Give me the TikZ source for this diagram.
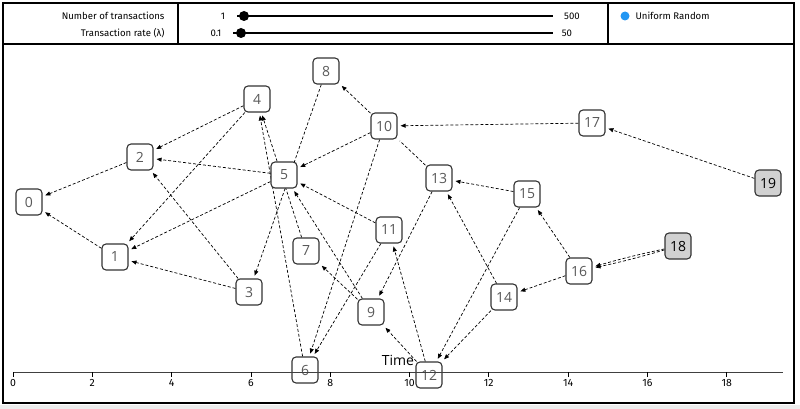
\documentclass[tikz,border=0pt]{standalone}
\usepackage{fontspec}
\setmainfont{Open Sans}
\newfontfamily\panelfont{Fira Sans}
\usetikzlibrary{arrows.meta,backgrounds}

\definecolor{legendblue}{RGB}{33,150,243}

\tikzset{
  tx/.style={draw=black!80, fill=white, rounded corners=4pt, minimum size=26pt,
    inner sep=0pt, line width=1.1pt, text=black!65, font=\fontsize{14}{14}\selectfont},
  tip/.style={fill=black!18, text=black},
  edge/.style={->, >={Triangle[length=5pt,width=4pt]}, dash pattern=on 3pt off 2pt,
    line width=0.7pt, shorten >=3pt},
  panel/.style={font=\panelfont\fontsize{9.6}{9.6}\selectfont}
}

\begin{document}
\begin{tikzpicture}[x=1pt, y=-1pt]
\useasboundingbox (0,0) rectangle (800,409);
\fill [black!7] (0,405) rectangle (800,409);

% control panel
\draw [line width=1.4pt] (3,3) rectangle (794,44);
\draw [line width=1.4pt] (178,3) -- (178,44);
\draw [line width=1.4pt] (608,3) -- (608,44);
\node [panel, anchor=east] (lbl-n) at (168,16) {Number of transactions};
\node [panel, anchor=east] (lbl-r) at (168,33) {Transaction rate (λ)};
\node [panel] (min-n) at (223,16) {1};
\node [panel] (min-r) at (216,33) {0.1};
\node [panel] (max-n) at (572,16) {500};
\node [panel] (max-r) at (567,33) {50};
\draw [line width=1.4pt] (237,16) -- (553,16);
\draw [line width=1.4pt] (233,33) -- (553,33);
\fill (244,16) circle (5pt);
\fill (241,33) circle (5pt);
\fill [legendblue] (625,16) circle (4.5pt);
\node [panel, anchor=west] (legend) at (632,16) {Uniform Random};

% plot area
\draw [line width=1.4pt] (3,44) rectangle (794,403);

% transactions
\node [tx] (n0) at (29,202) {0};
\node [tx] (n1) at (115,257) {1};
\node [tx] (n2) at (140,157) {2};
\node [tx] (n3) at (249,292) {3};
\node [tx] (n4) at (257,99) {4};
\node [tx] (n5) at (284,175) {5};
\node [tx] (n6) at (305,370) {6};
\node [tx] (n7) at (306,251) {7};
\node [tx] (n8) at (326,71) {8};
\node [tx] (n9) at (371,312) {9};
\node [tx] (n10) at (384,126) {10};
\node [tx] (n11) at (389,230) {11};
\node [tx] (n12) at (429,375) {12};
\node [tx] (n13) at (439,178) {13};
\node [tx] (n14) at (504,297) {14};
\node [tx] (n15) at (527,194) {15};
\node [tx] (n16) at (579,271) {16};
\node [tx] (n17) at (592,123) {17};
\node [tx, tip] (n18) at (678,246) {18};
\node [tx, tip] (n19) at (768,183) {19};

% approvals
\begin{pgfonlayer}{background}
\draw [edge] (n1) -- (n0);
\draw [edge] (n2) -- (n0);
\draw [edge] (n4) -- (n2);
\draw [edge] (n4) -- (n1);
\draw [edge] (n5) -- (n2);
\draw [edge] (n5) -- (n1);
\draw [edge] (n3) -- (n2);
\draw [edge] (n3) -- (n1);
\draw [edge] (n6) -- (n4);
\draw [edge] (n7) -- (n4);
\draw [edge] (n8) -- (n3);
\draw [edge] (n10) -- (n8);
\draw [edge] (n10) -- (n5);
\draw [edge] (n10) -- (n6);
\draw [edge, -] (n13) -- (n10);
\draw [edge] (n17) -- (n10);
\draw [edge] (n19) -- (n17);
\draw [edge] (n18) to [bend left=2] (n16);
\draw [edge] (n18) to [bend right=2] (n16);
\draw [edge] (n16) -- (n15);
\draw [edge] (n16) -- (n14);
\draw [edge] (n15) -- (n13);
\draw [edge] (n15) -- (n12);
\draw [edge] (n14) -- (n12);
\draw [edge] (n14) -- (n13);
\draw [edge] (n13) -- (n9);
\draw [edge] (n12) -- (n9);
\draw [edge] (n12) -- (n11);
\draw [edge] (n11) -- (n6);
\draw [edge] (n11) -- (n5);
\draw [edge] (n9) -- (n7);
\draw [edge] (n9) -- (n5);
\end{pgfonlayer}

% time axis
\draw [line width=0.8pt, black!75] (13,372) -- (783,372);
\foreach \t in {0,2,...,18}
  \draw [line width=0.8pt] (13+39.65*\t,372) -- ++(0,5)
    node [below, inner sep=1.5pt, font=\panelfont\fontsize{10.5}{10.5}\selectfont] {\t};
\node [font=\fontsize{14}{14}\selectfont] (time) at (398,360) {Time};
\end{tikzpicture}
\end{document}
